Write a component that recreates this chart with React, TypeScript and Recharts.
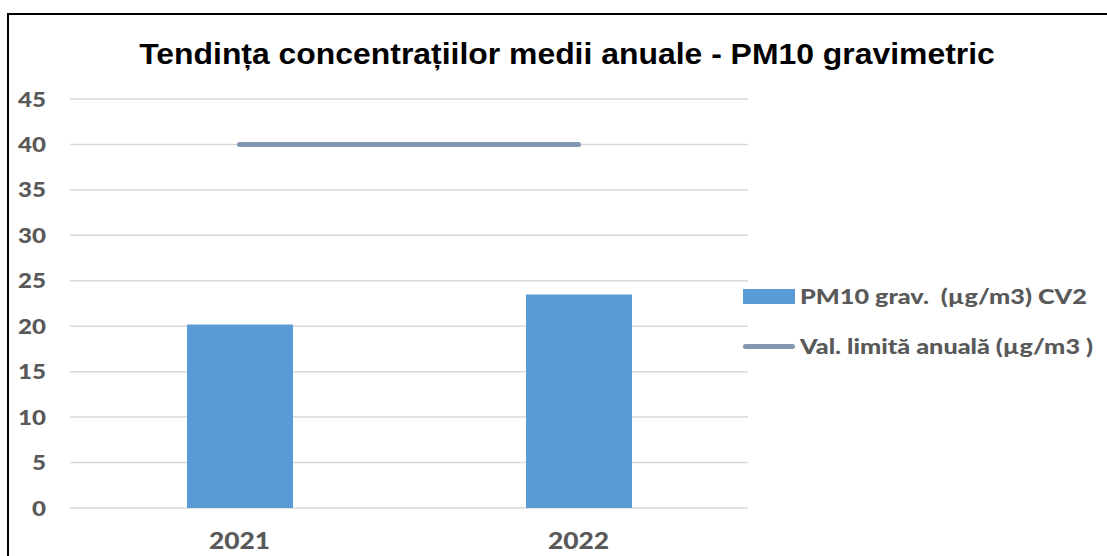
import React from 'react';
import { ComposedChart, Bar, Line, XAxis, YAxis, CartesianGrid, Legend } from 'recharts';

const years = ['2021', '2022'];
const pm10Values = [20.2, 23.5];
const limitValues = [40, 40];
const yTicks = [0, 5, 10, 15, 20, 25, 30, 35, 40, 45];

const seriesNames = {
  pm10: 'PM10 grav.  (µg/m3) CV2',
  limit: 'Val. limită anuală (µg/m3 )',
};

const data = years.map((year, i) => ({
  year,
  pm10: pm10Values[i],
  limit: limitValues[i],
}));

const BAR_COLOR = '#5B9BD5';
const LINE_COLOR = '#8497B0';
const TEXT_GRAY = '#595959';
const TICK_FONT = 'Lato, "Open Sans", sans-serif';

const YTick = (props: any) => {
  const { x, y, payload } = props;
  return (
    <g transform={`translate(${x},${y})`}>
      <text
        transform="scale(1.15,1)"
        textAnchor="end"
        dy="0.36em"
        fill={TEXT_GRAY}
        fontFamily={TICK_FONT}
        fontWeight={900}
        fontSize={21}
      >
        {payload.value}
      </text>
    </g>
  );
};

const XTick = (props: any) => {
  const { x, y, payload } = props;
  return (
    <g transform={`translate(${x},${y})`}>
      <text
        transform="scale(1.2,1)"
        textAnchor="middle"
        dy="0.36em"
        fill={TEXT_GRAY}
        fontFamily={TICK_FONT}
        fontWeight={900}
        fontSize={22}
      >
        {payload.value}
      </text>
    </g>
  );
};

const legendText: React.CSSProperties = {
  display: 'inline-block',
  whiteSpace: 'pre',
  color: TEXT_GRAY,
  fontFamily: TICK_FONT,
  fontWeight: 900,
  fontSize: 20,
  transform: 'scaleX(1.26)',
  transformOrigin: 'left center',
  marginLeft: 5,
};

const LegendContent = () => (
  <div style={{ position: 'relative', width: 364, height: 80 }}>
    <div style={{ display: 'flex', alignItems: 'center', height: 30 }}>
      <div style={{ width: 52, height: 15, background: BAR_COLOR }} />
      <span style={legendText}>{seriesNames.pm10}</span>
    </div>
    <div style={{ display: 'flex', alignItems: 'center', height: 30, marginTop: 20 }}>
      <div style={{ width: 52, height: 5, borderRadius: 3, background: LINE_COLOR }} />
      <span style={legendText}>{seriesNames.limit}</span>
    </div>
  </div>
);

export default function App() {
  return (
    <div style={{ position: 'fixed', left: 0, top: 0, width: 1107, height: 556, background: '#fff', overflow: 'hidden' }}>
      <div
        style={{
          position: 'absolute',
          left: 7,
          top: 13,
          width: 1200,
          height: 600,
          border: '2px solid #000',
          boxSizing: 'border-box',
        }}
      />
      <div
        style={{
          position: 'absolute',
          left: 67,
          top: 40,
          width: 1000,
          textAlign: 'center',
          fontFamily: '"Liberation Sans", Arial, sans-serif',
          fontWeight: 700,
          fontSize: 29,
          lineHeight: '29px',
          color: '#000',
          whiteSpace: 'pre',
          transform: 'scaleX(1.1)',
          transformOrigin: 'center',
        }}
      >
        Tendința concentrațiilor medii anuale - PM10 gravimetric
      </div>
      <div style={{ position: 'absolute', left: 0, top: 0 }}>
        <ComposedChart
          width={1107}
          height={556}
          data={data}
          margin={{ top: 99, right: 359, bottom: 0, left: 0 }}
        >
          <CartesianGrid vertical={false} stroke="#D9D9D9" strokeWidth={1.5} />
          <XAxis
            dataKey="year"
            height={48}
            axisLine={false}
            tickLine={false}
            tickSize={0}
            tickMargin={33}
            tick={<XTick />}
          />
          <YAxis
            width={70}
            domain={[0, 45]}
            ticks={yTicks}
            axisLine={false}
            tickLine={false}
            tickSize={0}
            tickMargin={24}
            tick={<YTick />}
          />
          <Bar dataKey="pm10" name={seriesNames.pm10} fill={BAR_COLOR} barSize={106} isAnimationActive={false} />
          <Line
            dataKey="limit"
            name={seriesNames.limit}
            stroke={LINE_COLOR}
            strokeWidth={5}
            strokeLinecap="round"
            dot={false}
            activeDot={false}
            isAnimationActive={false}
          />
          <Legend
            layout="horizontal"
            verticalAlign="middle"
            content={<LegendContent />}
            wrapperStyle={{ left: 743, top: 281, width: 364, height: 80 }}
          />
        </ComposedChart>
      </div>
    </div>
  );
}
